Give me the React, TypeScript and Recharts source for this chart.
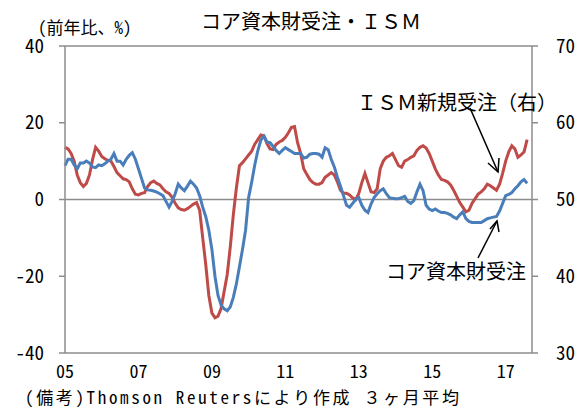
import React from 'react';
import { LineChart, Line, XAxis, YAxis, ReferenceLine } from 'recharts';

// monthly, Jan 2005 .. Aug 2017
// core capital goods orders, y/y %, 3-month average (left axis)
const coreOrders = [
  8.8, 10.5, 10.5, 9, 8, 9.5, 9.5, 10, 9.5, 8.5, 8.3, 9,
  8.8, 9.3, 10, 10.5, 12, 10, 10, 9, 10.5, 11.5, 12.2, 10.5,
  8, 5.5, 3, 2.5, 2.4, 2.2, 1.9, 1.5, 1, -0.5, -2, -0.5,
  1.5, 4, 3, 2.3, 3.5, 4.8, 4, 3, 1, -2, -4.5, -8,
  -13, -20, -25, -27.5, -28.5, -29, -28, -25.5, -22, -17.5, -13, -8,
  0.5, 4.5, 9, 12.7, 15.5, 16.5, 15, 14.8, 13.8, 12.8, 12, 12.8,
  13.5, 13, 12.5, 12, 12, 12, 10.8, 11, 11.8, 12, 12, 11.8,
  11, 13.5, 13, 10.5, 8.5, 5.8, 3.5, 1, -1.5, -2, -1, 0,
  0.5, -1.5, -2.8, -3.4, -1.2, 0.5, 1.5, 2.3, 2.8, 1.5, 0.5, 0.3,
  0.2, 0.2, 0.5, 0.8, -0.5, -1, -0.3, 2, 4, 2.3, -1.5, -2.5,
  -2.9, -2.5, -3, -3.4, -3.4, -3.6, -4, -4.6, -5, -4, -3.2, -5,
  -5.7, -6, -6, -6, -6, -5.5, -5, -4.8, -4.6, -4.4, -3, -1,
  1, 1.3, 1.8, 2.8, 3.6, 4.6, 5.2, 4.2,
];

// ISM new orders index, 3-month average (right axis)
const ismNewOrders = [
  56.8, 56.6, 56, 55, 53.2, 52.2, 51.7, 52.1, 53.2, 55.2, 56.8, 56.3,
  55.6, 55.3, 55.1, 55, 54.3, 53.5, 53.1, 52.7, 52.6, 52.3, 51.4, 50.7,
  50.6, 50.8, 50.9, 51.7, 52.2, 52.4, 52.1, 51.9, 51.4, 51, 50.8, 50.3,
  49.5, 48.9, 48.7, 48.6, 48.8, 49.1, 49.4, 49.6, 48.6, 45, 41.5, 37.5,
  35.2, 34.6, 34.8, 35.8, 38, 40.2, 43.8, 48, 51.5, 54.4, 54.8, 55.3,
  55.8, 56.3, 57.2, 57.8, 58.4, 58.3, 57.3, 56.6, 56.5, 57.2, 57.5, 57.7,
  58.1, 58.7, 59.4, 59.5, 57.4, 56, 54, 53.3, 52.6, 52.2, 52, 52,
  52.2, 52.9, 53.2, 53.5, 53.2, 52.3, 51.2, 50.8, 50.8, 50.6, 50.2, 50,
  50.8, 52.2, 53.4, 52.2, 51, 50.9, 51.4, 54, 55, 55.5, 55.7, 56,
  55.2, 54.4, 54.2, 55, 55.2, 55.5, 55.7, 56.4, 56.8, 57, 56.7, 56,
  55, 54, 53.2, 52.6, 52.5, 52.3, 51.9, 51.2, 50.4, 49.6, 49, 48.4,
  48.6, 49.5, 50.1, 50.7, 51, 51.4, 52, 51.8, 51.5, 51.2, 52, 53.4,
  55, 56.2, 57, 56.6, 55.5, 55.8, 56.2, 57.8,
];

const yearTicks = [0, 24, 48, 72, 96, 120, 144];
const yearLabels = ['05', '07', '09', '11', '13', '15', '17'];

const leftTicks = [-40, -20, 0, 20, 40];
const rightTicks = [30, 40, 50, 60, 70];

const data = coreOrders.map((v, i) => ({ m: i, core: v, ism: ismNewOrders[i] }));

const FONT = "'Noto Sans Mono CJK JP', 'Noto Sans CJK JP', sans-serif";
const GRAY = '#8c8c8c';
const BLUE = '#4A7EBB';
const RED = '#BE4B48';

const tickStyle = { fontSize: 19, fill: '#000', fontFamily: FONT };
const xTickStyle = { fontSize: 18, fill: '#000', fontFamily: FONT };

export default function App() {
  return (
    <div style={{ position: 'absolute', left: 0, top: 0, width: 584, height: 407, background: '#fff' }}>
      <LineChart width={584} height={407} data={data} margin={{ top: 46, right: 0, bottom: 0, left: 0 }}>
        <XAxis
          dataKey="m"
          type="number"
          domain={[0, 152.6]}
          ticks={yearTicks}
          tickFormatter={(v: number) => yearLabels[yearTicks.indexOf(v)] ?? ''}
          axisLine={false}
          tickLine={false}
          tickSize={6}
          tickMargin={6}
          height={54}
          tick={xTickStyle}
          interval={0}
        />
        <YAxis
          yAxisId="left"
          domain={[-40, 40]}
          ticks={leftTicks}
          width={65}
          tickSize={6}
          tickMargin={15}
          axisLine={{ stroke: GRAY, strokeWidth: 1.5 }}
          tickLine={{ stroke: GRAY, strokeWidth: 1.5 }}
          tick={tickStyle}
          interval={0}
        />
        <YAxis
          yAxisId="right"
          orientation="right"
          domain={[30, 70]}
          ticks={rightTicks}
          width={52}
          tickSize={6}
          tickMargin={18}
          axisLine={{ stroke: GRAY, strokeWidth: 1.5 }}
          tickLine={{ stroke: GRAY, strokeWidth: 1.5 }}
          tick={tickStyle}
          interval={0}
        />
        <ReferenceLine yAxisId="left" y={40} stroke={GRAY} strokeWidth={1.5} />
        <ReferenceLine yAxisId="left" y={0} stroke={GRAY} strokeWidth={1.5} />
        <ReferenceLine yAxisId="left" y={-40} stroke={GRAY} strokeWidth={1.5} />
        <Line
          yAxisId="right"
          dataKey="ism"
          stroke={RED}
          strokeWidth={3}
          dot={false}
          isAnimationActive={false}
        />
        <Line
          yAxisId="left"
          dataKey="core"
          stroke={BLUE}
          strokeWidth={3}
          dot={false}
          isAnimationActive={false}
        />
      </LineChart>
      <svg
        width={584}
        height={407}
        style={{ position: 'absolute', left: 0, top: 0, pointerEvents: 'none' }}
        fontFamily={FONT}
      >
        <text x={311} y={20} fontSize={20} textAnchor="middle" dominantBaseline="central" fill="#000">
          コア資本財受注・ＩＳＭ
        </text>
        <text x={38} y={26} fontSize={17} dominantBaseline="central" fill="#000">
          (前年比、%)
        </text>
        <text x={357} y={101} fontSize={20} dominantBaseline="central" fill="#000">
          ＩＳＭ新規受注（右）
        </text>
        <text x={386} y={270} fontSize={20} dominantBaseline="central" fill="#000">
          コア資本財受注
        </text>
        <g stroke="#000" strokeWidth={1.5} fill="none">
          <line x1={470} y1={108} x2={498} y2={172} />
          <polyline points="488,163 498,172 499,158" />
          <line x1={478} y1={258} x2={497} y2={221} />
          <polyline points="490,229 497,221 499,232" />
        </g>
        <text
          x={25}
          y={396}
          fontSize={17}
          dominantBaseline="central"
          fill="#000"
          textLength={434}
          lengthAdjust="spacing"
        >
          (備考)Thomson Reutersにより作成 ３ヶ月平均
        </text>
      </svg>
    </div>
  );
}
